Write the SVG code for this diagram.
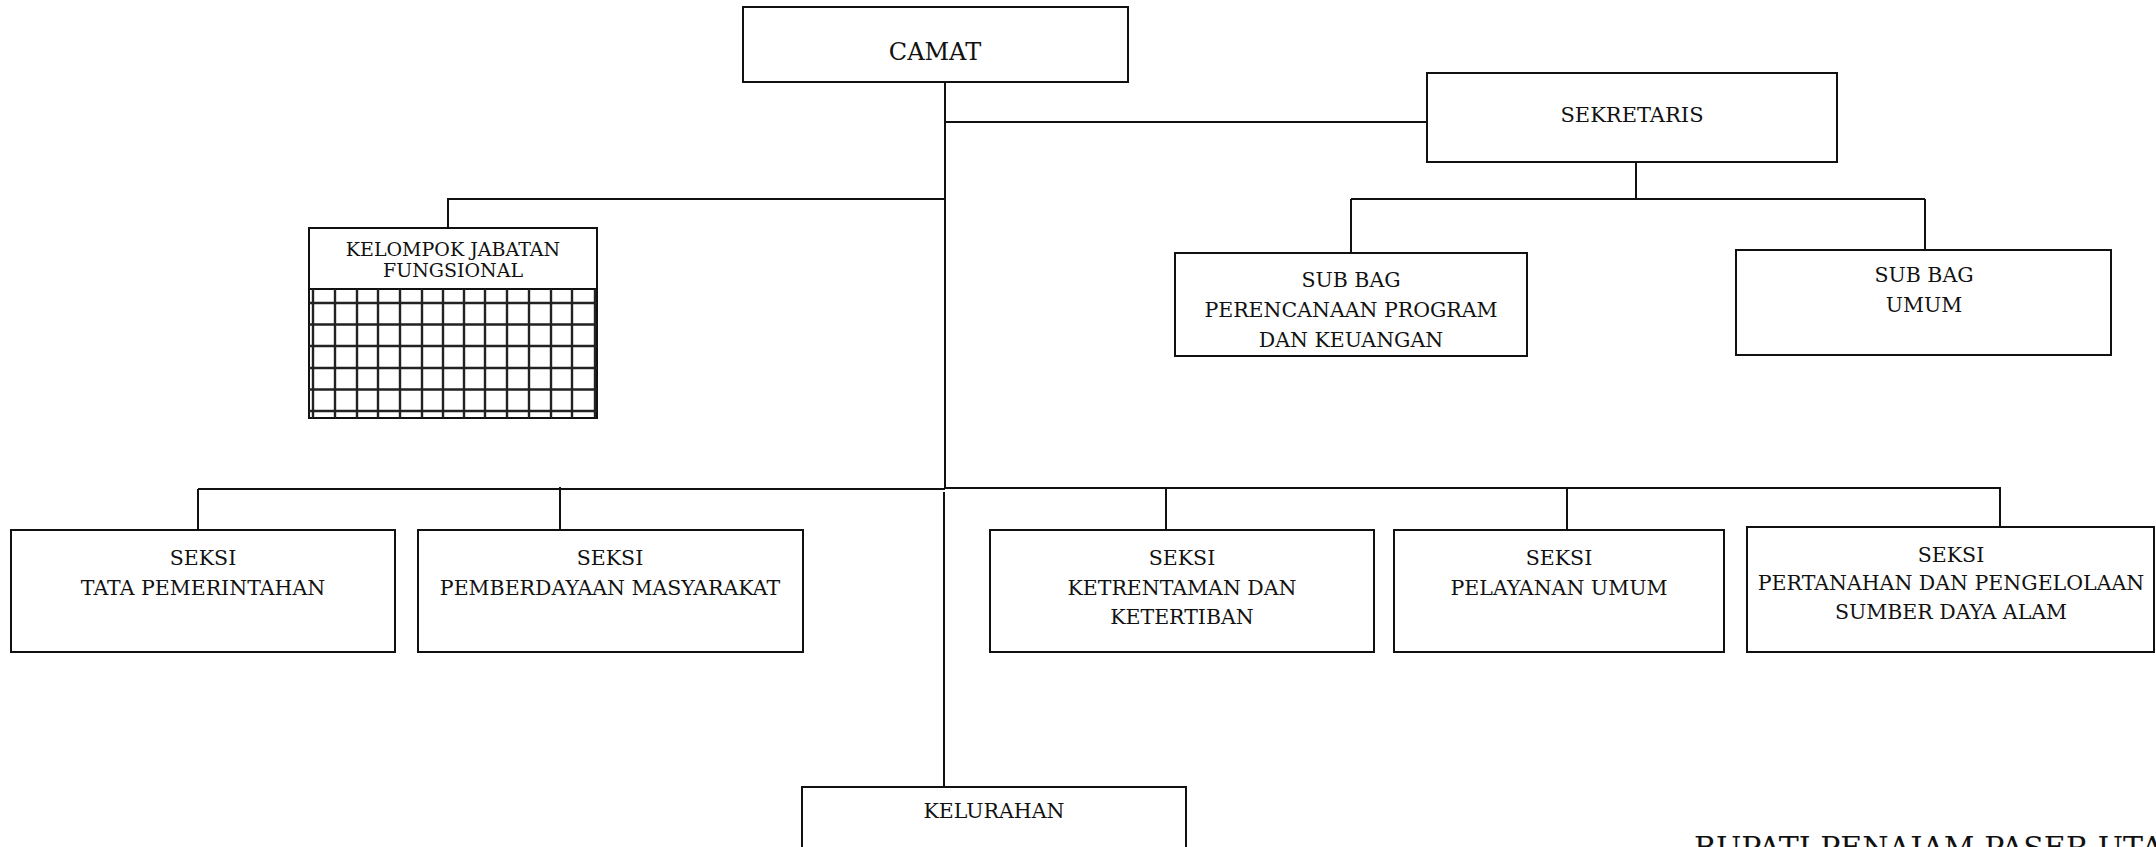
<svg xmlns="http://www.w3.org/2000/svg" width="2156" height="847" viewBox="0 0 2156 847">
<style>
.box{fill:#fff;stroke:#111;stroke-width:2}
.c{fill:none;stroke:#111;stroke-width:2}
.g{fill:none;stroke:#222;stroke-width:2.4}
text{font-family:"DejaVu Serif","Liberation Serif",serif;fill:#111;text-anchor:middle}
.t{font-size:20.5px}
</style>
<rect width="2156" height="847" fill="#fff"/>
<g id="connectors">
<path class="c" d="M945 82V488M945 122H1427M945 199H448V228"/>
<path class="c" d="M1636 162V199M1351 199H1925M1351 199V253M1925 199V250"/>
<path class="c" d="M198 489H945M945 488H2000V527M198 489V530M560 487V530M1166 488V530M1567 488V530"/>
<path class="c" d="M944 492V787"/>
</g>
<g id="camat">
<rect class="box" x="743" y="7" width="385" height="75"/>
<text x="935" y="60" style="font-size:24px">CAMAT</text>
</g>
<g id="sekretaris">
<rect class="box" x="1427" y="73" width="410" height="89"/>
<text x="1632" y="122" style="font-size:21px">SEKRETARIS</text>
</g>
<g id="kelompok">
<rect class="box" x="309" y="228" width="288" height="190"/>
<path class="c" d="M309 289H597"/>
<path class="g" d="M313 289V418M335 289V418M357 289V418M378 289V418M400 289V418M422 289V418M443 289V418M464 289V418M485 289V418M507 289V418M529 289V418M551 289V418M572 289V418M595 289V418"/>
<path class="g" d="M309 303H597M309 324.5H597M309 346H597M309 368H597M309 389.5H597M309 411H597"/>
<text x="453" y="256" style="font-size:19px">KELOMPOK JABATAN</text>
<text x="453" y="277" style="font-size:19px">FUNGSIONAL</text>
</g>
<g id="subbag-perencanaan">
<rect class="box" x="1175" y="253" width="352" height="103"/>
<text class="t" x="1351" y="287">SUB BAG</text>
<text class="t" x="1351" y="317">PERENCANAAN PROGRAM</text>
<text class="t" x="1351" y="347">DAN KEUANGAN</text>
</g>
<g id="subbag-umum">
<rect class="box" x="1736" y="250" width="375" height="105"/>
<text class="t" x="1924" y="282">SUB BAG</text>
<text class="t" x="1924" y="312">UMUM</text>
</g>
<g id="seksi-tata">
<rect class="box" x="11" y="530" width="384" height="122"/>
<text class="t" x="203" y="565">SEKSI</text>
<text class="t" x="203" y="595">TATA PEMERINTAHAN</text>
</g>
<g id="seksi-pemberdayaan">
<rect class="box" x="418" y="530" width="385" height="122"/>
<text class="t" x="610" y="565">SEKSI</text>
<text class="t" x="610" y="595">PEMBERDAYAAN MASYARAKAT</text>
</g>
<g id="seksi-ketrentaman">
<rect class="box" x="990" y="530" width="384" height="122"/>
<text class="t" x="1182" y="565">SEKSI</text>
<text class="t" x="1182" y="595">KETRENTAMAN DAN</text>
<text class="t" x="1182" y="624">KETERTIBAN</text>
</g>
<g id="seksi-pelayanan">
<rect class="box" x="1394" y="530" width="330" height="122"/>
<text class="t" x="1559" y="565">SEKSI</text>
<text class="t" x="1559" y="595">PELAYANAN UMUM</text>
</g>
<g id="seksi-pertanahan">
<rect class="box" x="1747" y="527" width="407" height="125"/>
<text class="t" x="1951" y="562">SEKSI</text>
<text class="t" x="1951" y="590">PERTANAHAN DAN PENGELOLAAN</text>
<text class="t" x="1951" y="619">SUMBER DAYA ALAM</text>
</g>
<g id="kelurahan">
<rect class="box" x="802" y="787" width="384" height="80"/>
<text class="t" x="994" y="818">KELURAHAN</text>
</g>
<g id="footer">
<text x="1694" y="858" style="font-size:30px;text-anchor:start">BUPATI PENAJAM PASER UTARA</text>
</g>
</svg>
